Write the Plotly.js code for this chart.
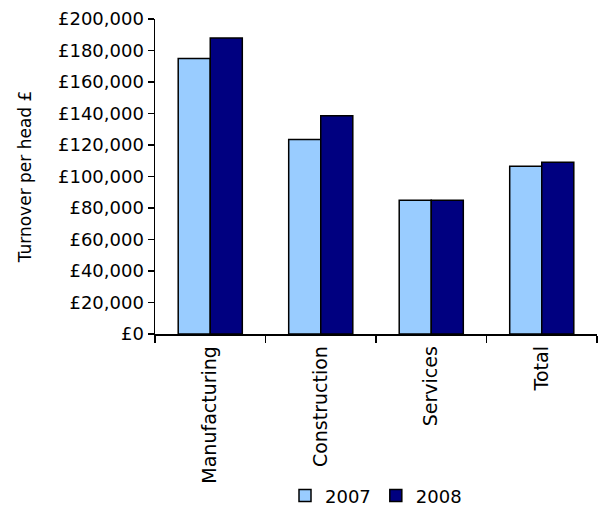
<!DOCTYPE html>
<html>
<head>
<meta charset="utf-8">
<script src="https://cdn.plot.ly/plotly-3.0.1.min.js"></script>
<style>html,body{margin:0;padding:0;background:#fff;}#chart{width:601px;height:506px;}</style>
</head>
<body>
<div id="chart"></div>
<script>
const categories = ["Manufacturing", "Construction", "Services", "Total"];
const series2007 = [175000, 123500, 85000, 106500];
const series2008 = [188000, 138500, 85000, 109000];
const seriesNames = ["2007", "2008"];
const yTickValues = [0, 20000, 40000, 60000, 80000, 100000, 120000, 140000, 160000, 180000, 200000];
const yTickLabels = ["£0", "£20,000", "£40,000", "£60,000", "£80,000", "£100,000", "£120,000", "£140,000", "£160,000", "£180,000", "£200,000"];

const font = "DejaVu Sans, Verdana, sans-serif";

const traces = [
  {type: "bar", name: seriesNames[0], x: categories, y: series2007,
   marker: {color: "#99CCFF", line: {color: "#000000", width: 1.5}}},
  {type: "bar", name: seriesNames[1], x: categories, y: series2008,
   marker: {color: "#000080", line: {color: "#000000", width: 1.5}}}
];

const layout = {
  width: 601, height: 506,
  margin: {l: 155, r: 4, t: 19, b: 172, pad: 0},
  paper_bgcolor: "#ffffff", plot_bgcolor: "#ffffff",
  font: {family: font, size: 16, color: "#000000"},
  barmode: "group", bargap: 0.42, bargroupgap: 0,
  showlegend: true,
  legend: {orientation: "h", x: 0.5, xanchor: "center", xref: "paper",
           y: 0.02, yanchor: "middle", yref: "container",
           font: {family: font, size: 18, color: "#000"}, tracegroupgap: 0},
  xaxis: {type: "category", showline: true, linecolor: "#000", linewidth: 1.5,
          ticks: "outside", tickson: "boundaries", ticklen: 7, tickwidth: 1.5, tickcolor: "#000",
          tickangle: -90, ticklabelstandoff: 3, tickfont: {family: font, size: 19},
          showgrid: false, zeroline: false, fixedrange: true},
  yaxis: {range: [0, 200000], tickmode: "array", tickvals: yTickValues, ticktext: yTickLabels,
          showline: true, linecolor: "#000", linewidth: 1.5, mirror: false,
          ticks: "outside", ticklen: 6, tickwidth: 1.5, tickcolor: "#000",
          tickfont: {family: font, size: 18}, showgrid: false, zeroline: false,
          title: {text: "Turnover per head £", font: {family: font, size: 17}, standoff: 22}}
};

Plotly.newPlot("chart", traces, layout, {displayModeBar: false, staticPlot: true});
</script>
</body>
</html>
